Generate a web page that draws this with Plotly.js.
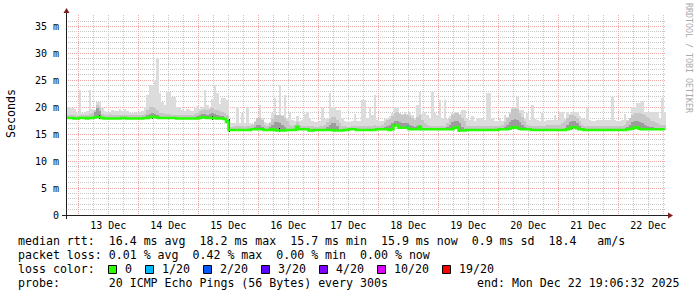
<!DOCTYPE html>
<html><head><meta charset="utf-8">
<script src="https://cdn.plot.ly/plotly-3.0.1.min.js"></script>
<style>html,body{margin:0;padding:0;background:#fff;}#chart{width:697px;height:297px;}</style>
</head><body><div id="chart"></div>
<script>
// ---- data (hourly bins, 12 Dec 19:06:32 .. 22 Dec 19:06:32) ----
const startTime = '2025-12-12 19:06:32';
const endTime = '2025-12-22 19:06:32';
const binHours = 1;

const median = [
18.0,18.0,18.0,17.9,17.9,18.0,18.0,18.0,17.9,18.0,
18.0,18.1,18.2,18.2,18.0,17.9,17.9,17.9,17.9,17.9,
17.9,17.9,18.0,18.0,17.9,17.9,17.9,17.9,17.9,17.9,
17.9,18.0,18.0,18.1,18.2,18.2,18.1,18.0,18.0,18.0,
18.0,18.0,18.0,18.0,17.9,17.9,17.9,17.9,17.9,17.9,
17.9,17.9,17.9,18.0,18.1,18.1,18.0,18.0,18.0,18.0,
17.9,17.9,17.9,17.8,17.3,15.8,15.8,15.8,15.8,15.8,
15.8,15.8,15.8,15.8,15.9,15.9,15.9,15.9,15.9,15.8,
15.8,15.8,15.9,15.8,15.7,15.7,15.7,15.7,15.8,15.8,
15.8,15.8,16.4,15.9,15.9,15.9,15.9,15.7,15.7,15.8,
15.8,15.8,15.8,15.8,15.8,15.8,15.8,15.7,15.7,15.7,
15.7,15.8,15.8,15.9,15.9,15.9,15.8,15.8,15.8,15.8,
15.8,15.8,15.8,15.8,15.9,15.9,15.9,15.9,15.9,15.8,
15.9,16.6,16.6,16.2,16.2,16.2,16.2,15.9,15.9,15.9,
15.9,16.4,15.9,15.9,15.9,15.9,15.9,15.9,15.9,15.9,
15.9,15.9,15.9,15.9,15.9,16.2,16.3,15.7,15.7,15.7,
15.8,15.8,15.8,15.8,15.8,15.8,15.8,15.8,15.8,15.8,
15.8,15.8,15.8,15.9,15.9,15.9,15.9,16.0,16.2,16.3,
16.2,16.0,15.9,15.9,15.9,15.9,15.8,15.8,15.8,15.8,
15.8,15.8,15.8,15.8,15.8,15.8,15.8,15.8,15.8,15.8,
15.9,16.0,16.3,16.3,16.1,15.9,15.9,15.8,15.8,15.8,
15.8,15.8,15.8,15.8,15.8,15.8,15.8,15.8,15.8,15.8,
15.8,15.8,15.8,15.8,15.9,15.9,16.0,16.2,16.3,16.0,
15.9,15.9,15.9,15.9,15.9,15.9,15.9,15.9,15.9,15.9];

const smokeTop = [
20.0,20.0,19.8,19.6,19.0,23.3,19.0,19.2,19.4,23.2,
19.6,19.5,21.0,21.0,19.8,19.3,19.2,19.2,19.5,19.3,
19.4,19.6,19.3,19.6,19.4,19.2,19.0,19.1,19.0,19.2,
19.4,20.0,22.3,24.1,24.1,25.1,29.1,22.6,21.0,20.5,
22.9,22.9,22.0,22.0,20.0,20.0,19.5,19.3,19.6,19.5,
19.4,19.8,20.2,19.6,20.0,23.2,20.4,19.8,21.5,24.1,
22.7,20.6,21.7,21.7,21.4,17.3,17.0,17.0,20.1,17.0,
18.9,17.0,20.1,17.0,16.9,17.5,18.0,20.4,18.0,17.2,
17.0,17.2,18.9,21.7,18.6,24.1,18.5,22.3,18.0,19.0,
17.6,17.4,18.3,17.5,17.6,18.7,19.2,18.0,17.5,17.2,
17.2,17.5,20.1,17.8,18.0,22.7,20.1,20.1,19.5,19.5,
18.0,17.5,17.3,17.2,17.5,18.7,17.4,17.5,21.4,21.4,
18.0,19.8,18.5,22.3,17.6,17.4,17.5,17.8,18.0,18.3,
18.9,20.1,20.1,19.0,18.8,19.2,18.8,19.2,18.5,18.0,
20.4,22.9,18.8,19.2,18.5,18.0,22.9,19.0,18.5,21.4,
18.0,21.3,17.8,18.3,18.9,19.1,19.1,18.7,19.5,19.5,
18.0,17.6,18.3,17.5,18.0,18.0,18.0,17.6,22.7,22.7,
18.0,17.4,17.4,18.0,17.5,18.6,18.2,19.2,19.8,20.0,
22.0,19.5,19.5,18.0,18.9,17.6,20.4,17.8,17.6,17.5,
18.9,17.4,17.7,17.7,17.7,18.6,17.7,19.2,19.2,17.8,
19.2,18.8,19.2,19.2,19.2,18.4,18.0,17.8,19.8,17.6,
17.4,17.5,17.6,17.7,17.7,17.7,17.7,17.7,22.0,17.6,
17.4,17.5,17.6,18.7,17.6,18.0,20.1,20.1,20.8,20.8,
21.1,19.2,19.2,19.2,19.2,19.2,19.2,18.0,21.7,19.2];

const smokeMid = [
18.6,18.6,18.5,18.5,18.4,18.6,18.5,18.5,18.6,18.7,
19.0,19.5,20.5,20.0,18.8,18.6,18.6,18.7,18.6,18.6,
18.6,18.6,18.6,18.6,18.6,18.5,18.5,18.5,18.5,18.5,
18.6,18.8,19.5,20.0,20.0,19.8,19.5,19.0,19.0,18.8,
18.7,18.7,18.6,18.6,18.5,18.5,18.5,18.5,18.5,18.5,
18.6,18.8,19.0,19.3,19.5,19.6,19.5,19.6,19.8,19.5,
19.5,19.3,19.2,19.0,18.6,16.4,16.4,16.5,16.6,16.5,
16.5,16.4,16.5,16.6,16.8,17.2,18.0,18.0,17.6,16.8,
16.5,17.0,17.8,18.5,18.5,18.6,18.4,18.0,17.4,16.8,
16.6,16.7,17.2,16.8,16.6,16.6,16.6,16.5,16.5,16.4,
16.4,16.5,16.6,16.8,17.2,17.8,18.2,18.2,17.6,17.0,
16.6,16.5,16.4,16.4,16.5,16.5,16.5,16.5,16.6,16.6,
16.5,16.6,16.6,16.7,16.6,16.6,16.8,17.2,17.6,17.8,
18.4,19.0,19.2,18.8,18.6,18.8,18.6,18.4,18.0,17.6,
18.2,18.6,17.6,17.0,16.8,16.6,16.6,16.6,16.6,16.6,
16.6,16.6,17.0,17.8,18.6,18.9,18.9,18.6,18.0,17.4,
16.6,16.5,16.5,16.5,16.5,16.5,16.5,16.5,16.6,16.6,
16.5,16.5,16.6,16.6,16.8,17.2,18.0,18.8,19.6,19.8,
19.6,19.0,18.2,17.4,16.8,16.6,16.6,16.5,16.5,16.5,
16.5,16.6,16.8,16.8,16.8,16.8,16.8,16.8,17.0,17.4,
18.0,18.6,18.6,18.4,18.0,17.4,16.8,16.6,16.6,16.5,
16.5,16.5,16.6,16.6,16.6,16.6,16.6,16.6,16.6,16.5,
16.5,16.6,16.6,16.8,17.4,18.0,18.6,19.0,19.0,19.0,
18.8,18.6,18.2,17.8,17.4,17.2,17.0,16.8,16.8,16.8];

// darker smoke clusters (bin index, top value)
const darkIdx = [11,12,13, 32,33,34,35,36, 52,53,54,55,56,57,58,59,60,61,62, 75,76,77,78,
  81,82,83,84,85,86,87, 104,105,106,107,108, 127,128,129,130,131,132,133,134,135,136,137,138,139,140,141,
  152,153,154,155,156,157,158, 175,176,177,178,179,180,181,182,183, 200,201,202,203,204,205,
  224,225,226,227,228,229,230,231,232,233,234];
const darkTop = [19.2,19.8,19.3, 18.6,18.8,19.0,18.8,18.6, 18.4,18.6,18.8,18.8,18.6,18.8,18.9,18.7,18.5,18.4,18.3, 16.4,16.8,16.8,16.4,
  16.3,16.8,17.2,17.2,17.0,16.8,16.4, 16.3,16.8,17.0,17.0,16.5, 16.3,16.6,16.8,17.0,17.4,17.4,17.2,17.0,17.0,17.0,16.8,16.6,16.4,16.6,16.8,
  16.4,16.8,17.2,17.4,17.4,17.0,16.4, 16.4,16.8,17.2,17.6,17.8,17.6,17.2,16.8,16.3, 16.8,17.2,17.5,17.4,17.0,16.5,
  16.4,16.8,17.2,17.4,17.4,17.2,17.0,16.8,16.6,16.4,16.3];

// densest ping clusters (near black)
const coreIdx = [13, 34, 58, 65, 82, 85, 92, 131, 141, 155, 157, 178, 202, 228];
const coreTop = [18.6, 18.4, 18.4, 17.9, 16.2, 16.1, 16.6, 16.9, 16.3, 16.4, 16.0, 16.5, 16.6, 16.5];

// bins with packet loss (pings lost of 20)
const lossIdx = [64, 129, 136, 223];
const lossPings = [1, 1, 1, 1];

const lossLabels = ['0', '1/20', '2/20', '3/20', '4/20', '10/20', '19/20'];
const lossLevels = [0, 1, 2, 3, 4, 10, 19];
const lossColors = ['#26ff00', '#00b8ff', '#0059ff', '#5e00ff', '#7e00ff', '#dd00ff', '#ff0000'];

const yTickVals = [0, 5, 10, 15, 20, 25, 30, 35];
const yTickText = ['0', '5 m', '10 m', '15 m', '20 m', '25 m', '30 m', '35 m'];

const rttStats = ['16.4', '18.2', '15.7', '15.9', '0.9', '18.4'];
const lossStats = ['0.01', '0.42', '0.00', '0.00'];
const probeText = '20 ICMP Echo Pings (56 Bytes) every 300s';
const endText = 'end: Mon Dec 22 19:06:32 2025';

// ---- build ----
const hourMs = 3600e3;
const t0 = Date.UTC(2025, 11, 12, 19, 6, 32);
const xs = median.map((_, i) => t0 + (i + 0.5) * binHours * hourMs);
const W = binHours * hourMs;

function band(tops, idxs, baseOff, color, width) {
  const x = [], base = [], y = [];
  idxs.forEach((i, k) => {
    const b = median[i] - baseOff;
    x.push(xs[i]); base.push(b); y.push(tops[k] - b);
  });
  return {type: 'bar', x, y, base, width: width, marker: {color, line: {width: 0}}, hoverinfo: 'skip'};
}
const allIdx = median.map((_, i) => i);
const traces = [
  band(smokeTop, allIdx, 0.15, '#dcdcdc', W),
  band(smokeMid, allIdx, 0.15, '#c6c6c6', W),
  band(darkTop, darkIdx, 0.15, '#9c9c9c', W),
  {type: 'scatter', mode: 'lines', x: xs, y: median, line: {color: lossColors[0], width: 2.5, shape: 'hvh'}, hoverinfo: 'skip'},
  band(coreTop, coreIdx, 0.3, '#1e1e1e', W * 0.55),
  (() => {
    const x = [], y = [], base = [], c = [];
    lossIdx.forEach((i, k) => {
      x.push(xs[i]); base.push(median[i] - 0.25); y.push(0.5);
      let lv = 0; lossLevels.forEach((l, j) => { if (lossPings[k] >= l) lv = j; });
      c.push(lossColors[lv]);
    });
    return {type: 'bar', x, y, base, width: W, marker: {color: c, line: {width: 0}}, hoverinfo: 'skip'};
  })()
];

// pixel helpers for page furniture
const PL = 66, PW = 600, PB = 215, PH = 200;
const px = v => (v - PL) / PW;
const py = v => (PB - v) / PH;
const nb = s => s.replace(/ /g, '\u00a0');
const MONO = 'DejaVu Sans Mono';
const FS = 11.6, CW = 7.0;

function ann(text, x, y, opts) {
  return Object.assign({text: nb(text), x: px(x), y: py(y), xref: 'paper', yref: 'paper', showarrow: false,
    xanchor: 'left', yanchor: 'middle', font: {family: MONO, size: FS, color: '#000000'}}, opts || {});
}

const line1 = 'median rtt:  ' + rttStats[0] + ' ms avg  ' + rttStats[1] + ' ms max  ' + rttStats[2] + ' ms min  ' +
  rttStats[3] + ' ms now  ' + rttStats[4] + ' ms sd  ' + rttStats[5] + '   am/s';
const line2 = 'packet loss: ' + lossStats[0] + ' % avg  ' + lossStats[1] + ' % max  ' + lossStats[2] + ' % min  ' + lossStats[3] + ' % now';

const TX = 15.5;
const annotations = [
  ann(line1, TX, 241),
  ann(line2, TX, 255),
  ann('loss color:', TX, 269),
  ann('probe:       ' + probeText, TX, 283),
  ann(endText, 681, 283, {xanchor: 'right'}),
  ann('Seconds', 11, 114, {xanchor: 'center', textangle: -90}),
  ann('RRDTOOL / TOBI OETIKER', 689, 58, {xanchor: 'center', textangle: 90, font: {family: MONO, size: 8.3, color: '#aaaaaa'}})
];
const shapes = [
  {type: 'line', xref: 'paper', yref: 'paper', x0: px(62), x1: px(670), y0: py(215.5), y1: py(215.5), line: {color: '#202020', width: 1}},
  {type: 'line', xref: 'paper', yref: 'paper', x0: px(66.5), x1: px(66.5), y0: py(219), y1: py(11), line: {color: '#202020', width: 1}},
  {type: 'path', xref: 'paper', yref: 'paper', path: 'M' + px(668) + ',' + py(212.5) + 'L' + px(668) + ',' + py(218.5) + 'L' + px(673) + ',' + py(215.5) + 'Z',
    fillcolor: '#7f1f1f', line: {width: 0}},
  {type: 'path', xref: 'paper', yref: 'paper', path: 'M' + px(63.5) + ',' + py(13) + 'L' + px(69.5) + ',' + py(13) + 'L' + px(66.5) + ',' + py(8) + 'Z',
    fillcolor: '#7f1f1f', line: {width: 0}}
];
// loss colour legend
let bx = 108;
lossLabels.forEach((lab, j) => {
  shapes.push({type: 'rect', xref: 'paper', yref: 'paper', x0: px(bx + 0.5), x1: px(bx + 8.5), y0: py(265.5), y1: py(273.5),
    fillcolor: lossColors[j], line: {color: '#000', width: 1}});
  const lx = bx + 15.5;
  annotations.push(ann(lab, lx - 1, 269));
  bx = lx + lab.length * CW + 14.5;
});

const gridMajor = '#eea7a7', gridMinor = '#c7c7c7', dash = '1px,1px';
const layout = {
  width: 697, height: 297,
  margin: {l: 66, r: 31, t: 15, b: 82, pad: 0},
  paper_bgcolor: '#ffffff', plot_bgcolor: '#ffffff',
  showlegend: false, barmode: 'overlay', bargap: 0,
  font: {family: MONO, size: 10, color: '#000000'},
  xaxis: {type: 'date', range: [startTime, endTime], tickmode: 'linear', tick0: '2025-12-13 00:00:00', dtick: 86400000,
    ticklabelmode: 'period', tickformat: '%d %b', color: '#000000', showgrid: true, gridcolor: gridMajor, griddash: dash, gridwidth: 1,
    minor: {tickmode: 'linear', tick0: '2025-12-13 00:00:00', dtick: 6 * hourMs, showgrid: true, gridcolor: gridMinor, griddash: dash, gridwidth: 1},
    showline: false, zeroline: false, ticks: '', fixedrange: true, ticklabelstandoff: 3,
    tickfont: {family: MONO, size: 10, color: '#000000'}},
  yaxis: {range: [0, 37.13], tickmode: 'array', tickvals: yTickVals, ticktext: yTickText, color: '#000000',
    showgrid: true, gridcolor: gridMajor, griddash: dash, gridwidth: 1,
    minor: {tickmode: 'linear', tick0: 0, dtick: 1, showgrid: true, gridcolor: gridMinor, griddash: dash, gridwidth: 1},
    showline: false, zeroline: false, ticks: '', fixedrange: true, ticklabelstandoff: 6,
    tickfont: {family: MONO, size: 10, color: '#000000'}},
  shapes, annotations
};
Plotly.newPlot('chart', traces, layout, {displayModeBar: false, staticPlot: true});
</script></body></html>
